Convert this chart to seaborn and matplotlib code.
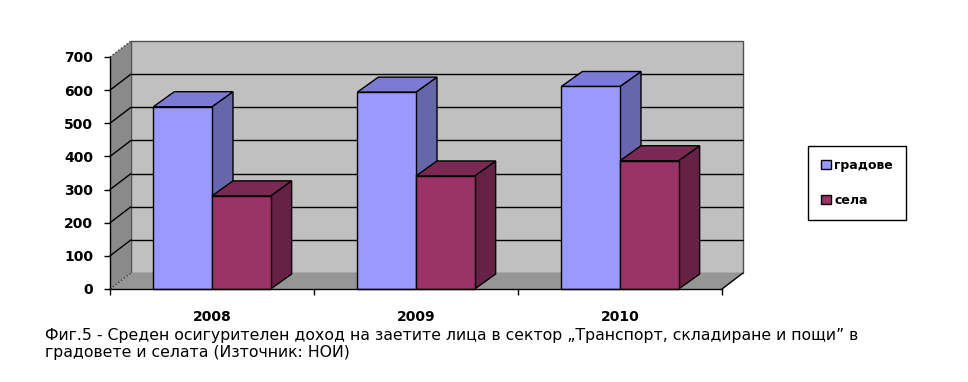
import numpy as np
import pandas as pd
import matplotlib
matplotlib.use('Agg')
import matplotlib.pyplot as plt
import seaborn as sns
from matplotlib.patches import Polygon, Rectangle, Patch

# ---- data ----
years = ['2008', '2009', '2010']
cities = [550, 594, 611]
villages = [281, 341, 387]
series_names = ['градове', 'села']
yticks = [0, 100, 200, 300, 400, 500, 600, 700]
caption = ('Фиг.5 - Среден осигурителен доход на заетите лица в сектор „Транспорт, складиране и пощи” в\n'
           'градовете и селата (Източник: НОИ)')

front_cols = ['#9999FF', '#993366']
top_cols = ['#7B7BD6', '#7A2952']
side_cols = ['#6666AA', '#662244']

sns.set_theme(style='white')
plt.rcParams['font.family'] = ['DejaVu Sans']
plt.rcParams['text.color'] = 'black'
plt.rcParams['xtick.color'] = 'black'
plt.rcParams['ytick.color'] = 'black'
plt.rcParams['axes.labelcolor'] = 'black'

W, H = 968, 382
fig = plt.figure(figsize=(W / 100, H / 100), dpi=100)
x0, x1, yb, yt = 110, 722, 289, 57
ax = fig.add_axes([x0 / W, 1 - yb / H, (x1 - x0) / W, (yb - yt) / H])
ax.patch.set_alpha(0)

df = pd.DataFrame({'year': years * 2,
                   'value': cities + villages,
                   'series': [series_names[0]] * len(years) + [series_names[1]] * len(years)})
sns.barplot(data=df, x='year', y='value', hue='series', palette=front_cols,
            saturation=1, width=0.575, edgecolor='black', linewidth=1,
            errorbar=None, legend=False, ax=ax)
ax.set_xlim(-0.5, 2.5)
ax.set_ylim(0, 700)
bars = [p for p in ax.patches if isinstance(p, Rectangle)]
bars = sorted(bars, key=lambda p: p.get_x())

# depth offsets (pixels -> data)
pxx = (x1 - x0) / 3.0
pxy = (yb - yt) / 700.0
dxw, dyw = 21 / pxx, 16 / pxy
dxb, dyb = 21 / pxx, 15 / pxy

# walls
ax.add_patch(Rectangle((-0.5 + dxw, dyw), 3, 700, fc='#C0C0C0', ec='#505050', lw=1,
                       clip_on=False, zorder=0.5))
ax.add_patch(Polygon([(-0.5, 0), (-0.5 + dxw, dyw), (-0.5 + dxw, 700 + dyw), (-0.5, 700)],
                     closed=True, fc='#8A8A8A', ec='none', clip_on=False, zorder=0.6))
ax.add_patch(Polygon([(-0.5, 0), (2.5, 0), (2.5 + dxw, dyw), (-0.5 + dxw, dyw)],
                     closed=True, fc='#969696', ec='none', clip_on=False, zorder=0.6))
for v in yticks[1:-1]:
    ax.plot([-0.5 + dxw, 2.5 + dxw], [v + dyw, v + dyw], color='black', lw=1, zorder=0.8,
            clip_on=False)
    ax.plot([-0.5, -0.5 + dxw], [v, v + dyw], color='black', lw=1, zorder=0.8, clip_on=False)
for v in [0, 700]:
    ax.plot([-0.5, -0.5 + dxw], [v, v + dyw], color='#333333', lw=1, ls=(0, (1, 1.5)),
            zorder=0.9, clip_on=False)
ax.plot([2.5, 2.5 + dxw], [0, dyw], color='black', lw=1, zorder=0.9, clip_on=False)

# 3D bar faces
for i, b in enumerate(bars):
    x, w, h = b.get_x(), b.get_width(), b.get_height()
    fc = matplotlib.colors.to_hex(b.get_facecolor())
    k = 0 if fc.lower() == front_cols[0].lower() else 1
    z = 2 + i * 0.1
    ax.add_patch(Polygon([(x + w, 0), (x + w + dxb, dyb), (x + w + dxb, h + dyb), (x + w, h)],
                         closed=True, fc=side_cols[k], ec='black', lw=1, zorder=z,
                         clip_on=False))
    ax.add_patch(Polygon([(x, h), (x + w, h), (x + w + dxb, h + dyb), (x + dxb, h + dyb)],
                         closed=True, fc=top_cols[k], ec='black', lw=1, zorder=z + 0.01,
                         clip_on=False))
    b.set_zorder(z + 0.02)
    b.set_clip_on(False)

# axes styling
for s in ['top', 'right']:
    ax.spines[s].set_visible(False)
for s in ['left', 'bottom']:
    ax.spines[s].set_color('black')
    ax.spines[s].set_linewidth(1)
    ax.spines[s].set_zorder(5)
ax.set_yticks(yticks)
ax.set_yticklabels([str(v) for v in yticks], fontsize=10, fontweight='bold', color='black')
ax.tick_params(axis='y', direction='out', length=4, width=1, pad=8, color='black', left=True)
ax.set_xticks(range(len(years)))
ax.set_xticklabels(years, fontsize=10, fontweight='bold', color='black')
ax.tick_params(axis='x', length=0, pad=15)
ax.set_xticks([-0.5, 0.5, 1.5, 2.5], minor=True)
ax.tick_params(axis='x', which='minor', direction='out', length=4, width=1, color='black',
               bottom=True)
ax.set_xlabel('')
ax.set_ylabel('')
ax.grid(False)

# legend
handles = [Patch(fc=front_cols[i], ec='black', lw=1, label=series_names[i]) for i in range(2)]
leg = fig.legend(handles=handles, loc='upper left', bbox_to_anchor=(808 / W, 1 - 146 / H),
                 frameon=True, fancybox=False, edgecolor='black', framealpha=1,
                 prop={'size': 9, 'weight': 'bold'}, handlelength=0.75, handleheight=0.75,
                 handletextpad=0.3, labelspacing=1.75, borderpad=1.05, borderaxespad=0)
leg.get_frame().set_linewidth(1)
for t in leg.get_texts():
    t.set_color('black')

fig.text(45 / W, 1 - 328 / H, caption, ha='left', va='top', fontsize=11.3, linespacing=1.2,
         color='black')

fig.savefig('out.png', dpi=100, facecolor='white')
